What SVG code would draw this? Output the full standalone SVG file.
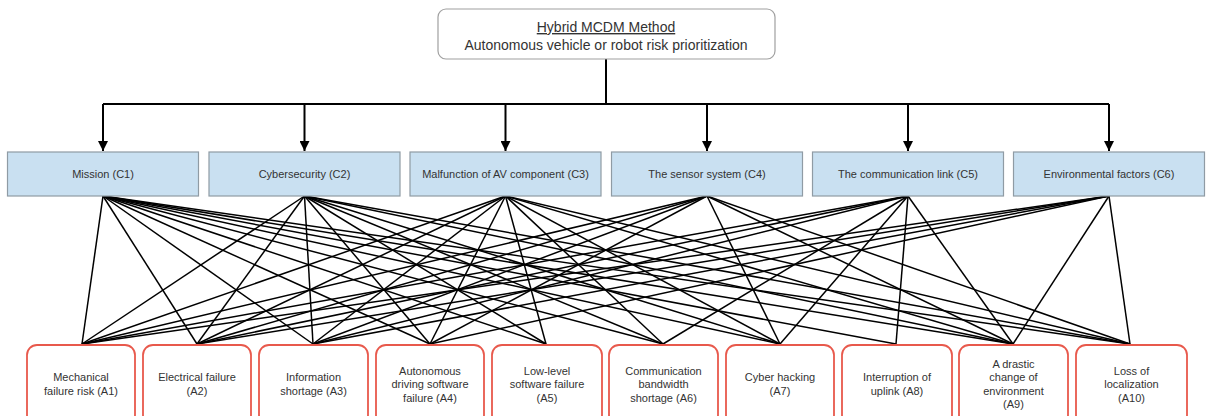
<svg xmlns="http://www.w3.org/2000/svg" width="1208" height="416" viewBox="0 0 1208 416">
<style>
text{font-family:"Liberation Sans",Arial,sans-serif;fill:#333;text-anchor:middle}
.top{fill:#fff;stroke:#a0a0a0;stroke-width:1.2}
.crit{fill:#c9e0f1;stroke:#8f9ba4;stroke-width:1.2}
.alt{fill:#fff;stroke:#e8594c;stroke-width:1.8}
.tree{stroke:#000;stroke-width:2;fill:none}
.edge{stroke:#000;stroke-width:1.5}
.t14{font-size:14px}
.t11{font-size:11px}
</style>
<defs>
<marker id="arr" viewBox="0 0 10 10" refX="10" refY="5" markerWidth="5" markerHeight="5" orient="auto" markerUnits="strokeWidth">
<path d="M0,0 L10,5 L0,10 z" fill="#000"/>
</marker>
</defs>
<g id="connectors">
<path class="tree" d="M606,59 V104 M103,104 H1109"/>
<path class="tree" d="M103,104 V151" marker-end="url(#arr)"/>
<path class="tree" d="M304.5,104 V151" marker-end="url(#arr)"/>
<path class="tree" d="M505.5,104 V151" marker-end="url(#arr)"/>
<path class="tree" d="M707,104 V151" marker-end="url(#arr)"/>
<path class="tree" d="M908,104 V151" marker-end="url(#arr)"/>
<path class="tree" d="M1109,104 V151" marker-end="url(#arr)"/>
<g class="edge">
<line x1="103" y1="196" x2="82" y2="344"/><line x1="103" y1="196" x2="197" y2="344"/><line x1="103" y1="196" x2="313" y2="344"/><line x1="103" y1="196" x2="430" y2="344"/><line x1="103" y1="196" x2="546" y2="344"/><line x1="103" y1="196" x2="663" y2="344"/><line x1="103" y1="196" x2="780" y2="344"/><line x1="103" y1="196" x2="896" y2="344"/><line x1="103" y1="196" x2="1013" y2="344"/><line x1="103" y1="196" x2="1130" y2="344"/>
<line x1="304.5" y1="196" x2="82" y2="344"/><line x1="304.5" y1="196" x2="197" y2="344"/><line x1="304.5" y1="196" x2="313" y2="344"/><line x1="304.5" y1="196" x2="430" y2="344"/><line x1="304.5" y1="196" x2="546" y2="344"/><line x1="304.5" y1="196" x2="663" y2="344"/><line x1="304.5" y1="196" x2="780" y2="344"/><line x1="304.5" y1="196" x2="1013" y2="344"/><line x1="304.5" y1="196" x2="1130" y2="344"/>
<line x1="505.5" y1="196" x2="82" y2="344"/><line x1="505.5" y1="196" x2="197" y2="344"/><line x1="505.5" y1="196" x2="313" y2="344"/><line x1="505.5" y1="196" x2="430" y2="344"/><line x1="505.5" y1="196" x2="546" y2="344"/><line x1="505.5" y1="196" x2="663" y2="344"/><line x1="505.5" y1="196" x2="780" y2="344"/><line x1="505.5" y1="196" x2="1013" y2="344"/><line x1="505.5" y1="196" x2="1130" y2="344"/>
<line x1="707" y1="196" x2="82" y2="344"/><line x1="707" y1="196" x2="197" y2="344"/><line x1="707" y1="196" x2="313" y2="344"/><line x1="707" y1="196" x2="430" y2="344"/><line x1="707" y1="196" x2="780" y2="344"/><line x1="707" y1="196" x2="1013" y2="344"/><line x1="707" y1="196" x2="1130" y2="344"/>
<line x1="908" y1="196" x2="82" y2="344"/><line x1="908" y1="196" x2="197" y2="344"/><line x1="908" y1="196" x2="313" y2="344"/><line x1="908" y1="196" x2="663" y2="344"/><line x1="908" y1="196" x2="780" y2="344"/><line x1="908" y1="196" x2="896" y2="344"/><line x1="908" y1="196" x2="1013" y2="344"/>
<line x1="1109" y1="196" x2="82" y2="344"/><line x1="1109" y1="196" x2="197" y2="344"/><line x1="1109" y1="196" x2="313" y2="344"/><line x1="1109" y1="196" x2="430" y2="344"/><line x1="1109" y1="196" x2="1013" y2="344"/><line x1="1109" y1="196" x2="1130" y2="344"/>
</g>
</g>
<g id="goal">
<rect class="top" x="438" y="9" width="337" height="50" rx="8"/>
<text class="t14" x="606" y="32" text-decoration="underline">Hybrid MCDM Method</text>
<text class="t14" x="606" y="50">Autonomous vehicle or robot risk prioritization</text>
</g>
<g id="C1"><rect class="crit" x="7.5" y="152" width="191" height="44"/><text class="t11" x="103" y="178">Mission (C1)</text></g>
<g id="C2"><rect class="crit" x="209" y="152" width="191" height="44"/><text class="t11" x="304.5" y="178">Cybersecurity (C2)</text></g>
<g id="C3"><rect class="crit" x="410" y="152" width="191" height="44"/><text class="t11" x="505.5" y="178">Malfunction of AV component (C3)</text></g>
<g id="C4"><rect class="crit" x="611.5" y="152" width="191" height="44"/><text class="t11" x="707" y="178">The sensor system (C4)</text></g>
<g id="C5"><rect class="crit" x="812.5" y="152" width="191" height="44"/><text class="t11" x="908" y="178">The communication link (C5)</text></g>
<g id="C6"><rect class="crit" x="1013.5" y="152" width="191" height="44"/><text class="t11" x="1109" y="178">Environmental factors (C6)</text></g>
<g id="A1"><rect class="alt" x="27" y="345" width="108" height="80" rx="10"/><text class="t11" x="81" y="381">Mechanical</text><text class="t11" x="81" y="395">failure risk (A1)</text></g>
<g id="A2"><rect class="alt" x="143" y="345" width="108" height="80" rx="10"/><text class="t11" x="197" y="381">Electrical failure</text><text class="t11" x="197" y="395">(A2)</text></g>
<g id="A3"><rect class="alt" x="259" y="345" width="109" height="80" rx="10"/><text class="t11" x="313.5" y="381">Information</text><text class="t11" x="313.5" y="395">shortage (A3)</text></g>
<g id="A4"><rect class="alt" x="376" y="345" width="108" height="80" rx="10"/><text class="t11" x="430" y="374.5">Autonomous</text><text class="t11" x="430" y="388">driving software</text><text class="t11" x="430" y="401.5">failure (A4)</text></g>
<g id="A5"><rect class="alt" x="492" y="345" width="110" height="80" rx="10"/><text class="t11" x="547" y="374.5">Low-level</text><text class="t11" x="547" y="388">software failure</text><text class="t11" x="547" y="401.5">(A5)</text></g>
<g id="A6"><rect class="alt" x="609" y="345" width="109" height="80" rx="10"/><text class="t11" x="663.5" y="374.5">Communication</text><text class="t11" x="663.5" y="388">bandwidth</text><text class="t11" x="663.5" y="401.5">shortage (A6)</text></g>
<g id="A7"><rect class="alt" x="726" y="345" width="108" height="80" rx="10"/><text class="t11" x="780" y="381">Cyber hacking</text><text class="t11" x="780" y="395">(A7)</text></g>
<g id="A8"><rect class="alt" x="842" y="345" width="110" height="80" rx="10"/><text class="t11" x="897" y="381">Interruption of</text><text class="t11" x="897" y="395">uplink (A8)</text></g>
<g id="A9"><rect class="alt" x="959" y="345" width="109" height="80" rx="10"/><text class="t11" x="1013.5" y="367.5">A drastic</text><text class="t11" x="1013.5" y="381">change of</text><text class="t11" x="1013.5" y="394.5">environment</text><text class="t11" x="1013.5" y="408">(A9)</text></g>
<g id="A10"><rect class="alt" x="1076" y="345" width="111" height="80" rx="10"/><text class="t11" x="1131.5" y="374.5">Loss of</text><text class="t11" x="1131.5" y="388">localization</text><text class="t11" x="1131.5" y="401.5">(A10)</text></g>
</svg>
